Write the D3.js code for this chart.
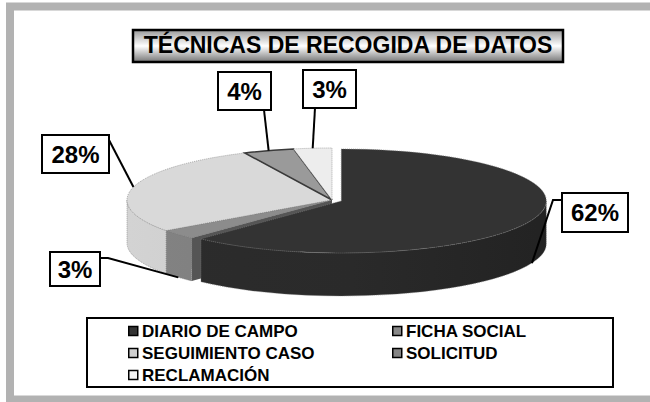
<!DOCTYPE html>
<html>
<head>
<meta charset="utf-8">
<script src="https://cdnjs.cloudflare.com/ajax/libs/d3/7.8.5/d3.min.js"></script>
<style>
	body { margin: 0; background: #fff; }
	svg { display: block; font-family: "Liberation Sans", Arial, sans-serif; font-weight: bold; }
</style>
</head>
<body>
<div id="chart"></div>
<script>
var title = "TÉCNICAS DE RECOGIDA DE DATOS";
var categories = ["DIARIO DE CAMPO", "FICHA SOCIAL", "SEGUIMIENTO CASO", "SOLICITUD", "RECLAMACIÓN"];
var values = [62, 3, 28, 4, 3];

function pie3dChart() {
	var chart = {},
			selector = "#chart",
			width = 650,
			height = 402,
			center = {x: 332, y: 200},
			rx = 205,
			ry = 52,
			depth = 43,
			explode = [10, 0, 0, 0, 0],
			topColors = ["#333333", "#8c8c8c", "#d9d9d9", "#9a9a9a", "#ededed"],
			sideColors = ["#2a2a2a", "#7c7c7c", "#c8c8c8", "#808080", "#d8d8d8"],
			wallColors = ["#1c1c1c", "#555555", "#b0b0b0", "#666666", "#c8c8c8"],
			swatchColors = ["#333333", "#888888", "#d0d0d0", "#858585", "#f2f2f2"];

	// label boxes and the elbow points of their leader lines
	var labelBoxes = [
		{x: 562, y: 193, w: 66, h: 39, via: [[562, 200], [553, 200]]},
		{x: 50, y: 252, w: 50, h: 34, via: [[100, 258], [108, 258]]},
		{x: 42, y: 135, w: 67, h: 38, via: [[109, 140]]},
		{x: 218, y: 72, w: 53, h: 38, via: [[264, 110]]},
		{x: 303, y: 70, w: 53, h: 38, via: [[315, 108]]}
	];

	var pie = d3.pie().sort(null);

	function offset(d, i) {
		var m = (d.startAngle + d.endAngle) / 2;
		return [explode[i] * Math.sin(m), -explode[i] * Math.cos(m) * ry / rx];
	}

	function pt(a, r, z, o) {
		return [center.x + o[0] + r * rx * Math.sin(a), center.y + o[1] - r * ry * Math.cos(a) + z];
	}

	function topPath(d, o) {
		var large = d.endAngle - d.startAngle > Math.PI ? 1 : 0;
		return "M" + pt(0, 0, 0, o) + "L" + pt(d.startAngle, 1, 0, o) +
			"A" + rx + "," + ry + " 0 " + large + " 1 " + pt(d.endAngle, 1, 0, o) + "Z";
	}

	function sidePath(s, e, o) {
		return "M" + pt(s, 1, 0, o) + "A" + rx + "," + ry + " 0 0 1 " + pt(e, 1, 0, o) +
			"L" + pt(e, 1, depth, o) + "A" + rx + "," + ry + " 0 0 0 " + pt(s, 1, depth, o) + "Z";
	}

	function wallPath(a, o) {
		return "M" + pt(a, 0, 0, o) + "L" + pt(a, 1, 0, o) + "L" + pt(a, 1, depth, o) + "L" + pt(a, 0, depth, o) + "Z";
	}

	chart.render = function() {
		var svg = d3.select(selector).append("svg")
				.attr("width", width)
				.attr("height", height);

		var defs = svg.append("defs");
		var tg = defs.append("linearGradient").attr("id", "titleGrad")
				.attr("x1", 0).attr("y1", 0).attr("x2", 0).attr("y2", 1);
		tg.append("stop").attr("offset", "0%").attr("stop-color", "#9a9a9a");
		tg.append("stop").attr("offset", "50%").attr("stop-color", "#ffffff");
		tg.append("stop").attr("offset", "100%").attr("stop-color", "#777777");

		sideColors.forEach(function(c, i) {
			var g = defs.append("linearGradient").attr("id", "side" + i)
					.attr("gradientUnits", "userSpaceOnUse")
					.attr("x1", center.x - rx).attr("x2", center.x + rx).attr("y1", 0).attr("y2", 0);
			g.append("stop").attr("offset", "0%").attr("stop-color", d3.color(c).brighter(0.15));
			g.append("stop").attr("offset", "55%").attr("stop-color", c);
			g.append("stop").attr("offset", "100%").attr("stop-color", d3.color(c).darker(0.5));
		});

		// outer frame
		svg.append("rect")
				.attr("x", 10).attr("y", 6.5)
				.attr("width", 680).attr("height", 393)
				.style("fill", "#ffffff")
				.style("stroke", "#b2b2b2")
				.style("stroke-width", 8);

		// title
		svg.append("rect")
				.attr("x", 133).attr("y", 30)
				.attr("width", 430).attr("height", 32)
				.style("fill", "url(#titleGrad)")
				.style("stroke", "#000")
				.style("stroke-width", 2.5);

		svg.append("text")
				.attr("x", 348).attr("y", 53)
				.style("text-anchor", "middle")
				.style("font-size", "23px")
				.text(title);

		// pie
		var arcs = pie(values);
		var body = svg.append("g").attr("class", "pie");

		var walls = [];
		arcs.forEach(function(d, i) {
			var o = offset(d, i);
			if (Math.sin(d.startAngle) < -1e-6) walls.push({a: d.startAngle, o: o, i: i});
			if (Math.sin(d.endAngle) > 1e-6) walls.push({a: d.endAngle, o: o, i: i});
		});
		walls.sort(function(a, b) { return -Math.cos(a.a) - -Math.cos(b.a); });

		body.selectAll(".wall")
			.data(walls)
			.enter().append("path")
				.attr("class", "wall")
				.attr("d", function(w) { return wallPath(w.a, w.o); })
				.style("fill", function(w) { return wallColors[w.i]; });

		arcs.forEach(function(d, i) {
			var s = Math.max(d.startAngle, Math.PI / 2),
					e = Math.min(d.endAngle, Math.PI * 1.5);
			if (s >= e) return;
			body.append("path")
					.attr("class", "side")
					.attr("d", sidePath(s, e, offset(d, i)))
					.style("fill", "url(#side" + i + ")")
					.style("stroke", "#777")
					.style("stroke-width", 0.6)
					.style("stroke-dasharray", "1,1");
		});

		body.selectAll(".top")
			.data(arcs)
			.enter().append("path")
				.attr("class", "top")
				.attr("d", function(d, i) { return topPath(d, offset(d, i)); })
				.style("fill", function(d, i) { return topColors[i]; })
				.style("stroke", function(d, i) { return i === 3 ? "#3a3a3a" : "#777"; })
				.style("stroke-width", function(d, i) { return i === 3 ? 1.5 : 0.6; })
				.style("stroke-dasharray", function(d, i) { return i === 3 ? null : "1,1"; });

		// data labels
		var labels = svg.append("g").attr("class", "labels");
		arcs.forEach(function(d, i) {
			var o = offset(d, i),
					m = (d.startAngle + d.endAngle) / 2,
					anchor = pt(m, 1, Math.cos(m) < 0 ? depth : 0, o),
					box = labelBoxes[i];

			labels.append("path")
					.attr("d", d3.line()(box.via.concat([anchor])))
					.style("fill", "none")
					.style("stroke", "#000")
					.style("stroke-width", 2);

			labels.append("rect")
					.attr("x", box.x).attr("y", box.y)
					.attr("width", box.w).attr("height", box.h)
					.style("fill", "#fff")
					.style("stroke", "#000")
					.style("stroke-width", 2);

			labels.append("text")
					.attr("x", box.x + box.w / 2)
					.attr("y", box.y + box.h / 2 + 8.5)
					.style("text-anchor", "middle")
					.style("font-size", "24px")
					.text(values[i] + "%");
		});

		// legend
		var legend = svg.append("g").attr("class", "legend");
		legend.append("rect")
				.attr("x", 87).attr("y", 318)
				.attr("width", 526).attr("height", 69)
				.style("fill", "#fff")
				.style("stroke", "#000")
				.style("stroke-width", 2);

		var item = legend.selectAll(".item")
			.data(categories)
			.enter().append("g")
				.attr("class", "item")
				.attr("transform", function(d, i) {
					return "translate(" + [128, 392][i % 2] + "," + (337 + Math.floor(i / 2) * 22) + ")";
				});

		item.append("rect")
				.attr("x", 0.75).attr("y", -10.5)
				.attr("width", 9).attr("height", 9)
				.style("fill", function(d, i) { return swatchColors[i]; })
				.style("stroke", "#000")
				.style("stroke-width", 1.5);

		item.append("text")
				.attr("x", 14)
				.attr("y", 0)
				.style("font-size", "17px")
				.text(function(d) { return d; });
	};

	return chart;
}

pie3dChart().render();
</script>
</body>
</html>
